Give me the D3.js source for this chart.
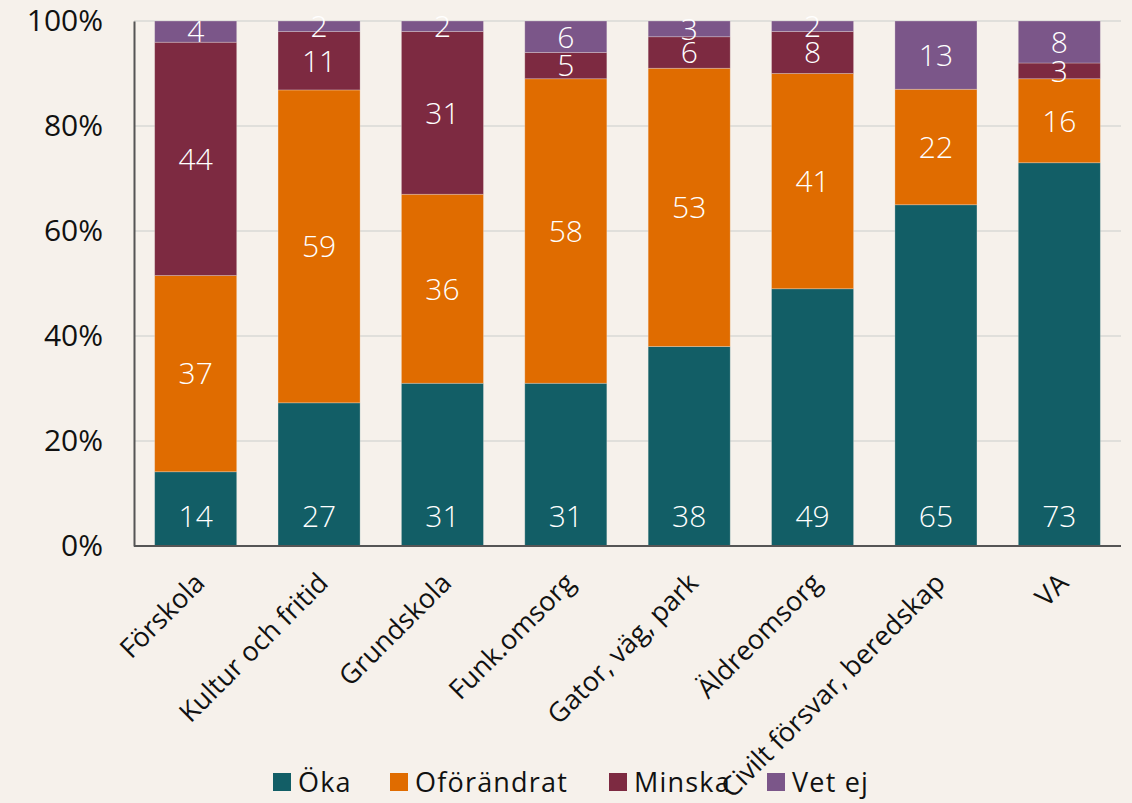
<html>
<script src="https://d3js.org/d3.v7.min.js"></script>
<style>
  body { margin: 0; background: #f6f1eb; }
  svg { font-family: "Open Sans", Lato, sans-serif; }
</style>
<body>
<svg width="1132" height="803"></svg>
<script>
const categories = ["Förskola", "Kultur och fritid", "Grundskola", "Funk.omsorg", "Gator, väg, park", "Äldreomsorg", "Civilt försvar, beredskap", "VA"];
const seriesNames = ["Öka", "Oförändrat", "Minska", "Vet ej"];
const oka = [14, 27, 31, 31, 38, 49, 65, 73];
const oforandrat = [37, 59, 36, 58, 53, 41, 22, 16];
const minska = [44, 11, 31, 5, 6, 8, 0, 3];
const vetEj = [4, 2, 2, 6, 3, 2, 13, 8];
const yTicks = [0, 0.2, 0.4, 0.6, 0.8, 1];
const colors = ["#125e66", "#e06c00", "#7d2a41", "#7b5689"];

const rows = categories.map((c, i) => ({
  cat: c, "Öka": oka[i], "Oförändrat": oforandrat[i], "Minska": minska[i], "Vet ej": vetEj[i]
}));

const svg = d3.select("svg");
const plotLeft = 134, plotRight = 1121, plotTop = 21, plotBottom = 546;

const x = d3.scaleBand().domain(categories).range([plotLeft, plotRight]).paddingInner(0.335).paddingOuter(0.1675);
const y = d3.scaleLinear().domain([0, 1]).range([plotBottom, plotTop]);
const color = d3.scaleOrdinal().domain(seriesNames).range(colors);

const stacked = d3.stack().keys(seriesNames).offset(d3.stackOffsetExpand)(rows);

// gridlines
svg.append("g")
  .selectAll("line")
  .data(yTicks.slice(1))
  .join("line")
  .attr("x1", plotLeft).attr("x2", plotRight)
  .attr("y1", d => y(d)).attr("y2", d => y(d))
  .attr("stroke", "#d9d8d6").attr("stroke-width", 1.5);

// bars
const layer = svg.append("g")
  .selectAll("g")
  .data(stacked)
  .join("g")
  .attr("fill", d => color(d.key));

layer.selectAll("rect")
  .data(d => d)
  .join("rect")
  .attr("x", d => x(d.data.cat))
  .attr("width", x.bandwidth())
  .attr("y", d => y(d[1]))
  .attr("height", d => y(d[0]) - y(d[1]))
  .attr("stroke", "rgba(246,241,235,0.35)")
  .attr("stroke-width", 0.8);

// segment labels (Öka sits at the base, others centred)
svg.append("g")
  .selectAll("g")
  .data(stacked)
  .join("g")
  .selectAll("text")
  .data(d => d.map(v => ({ v: v, key: d.key })).filter(e => e.v.data[d.key] > 0))
  .join("text")
  .attr("x", d => x(d.v.data.cat) + x.bandwidth() / 2)
  .attr("y", d => d.key == "Öka" ? y(0) - 30 : (y(d.v[0]) + y(d.v[1])) / 2)
  .attr("dy", "0.36em")
  .attr("text-anchor", "middle")
  .attr("fill", "#ffffff")
  .attr("font-size", 30)
  .attr("font-weight", 300)
  .text(d => d.v.data[d.key]);

// y axis
const yAxis = svg.append("g")
  .attr("transform", "translate(" + plotLeft + ",0)")
  .call(d3.axisLeft(y).tickValues(yTicks).tickFormat(d3.format(".0%")).tickSize(0).tickPadding(31));
yAxis.select(".domain").attr("stroke", "#555555").attr("stroke-width", 2);
yAxis.selectAll("text").attr("font-size", 30).attr("fill", "#111111").attr("font-family", "'Open Sans', Lato, sans-serif");

// x axis line
svg.append("line")
  .attr("x1", plotLeft).attr("x2", plotRight)
  .attr("y1", plotBottom).attr("y2", plotBottom)
  .attr("stroke", "#555555").attr("stroke-width", 2);

// category labels
svg.append("g")
  .selectAll("text")
  .data(categories)
  .join("text")
  .attr("transform", d => "translate(" + (x(d) + x.bandwidth() / 2 + 4) + "," + (plotBottom + 32) + ") rotate(-45)")
  .attr("text-anchor", "end")
  .attr("dy", "0.35em")
  .attr("font-size", 27)
  .attr("fill", "#111111")
  .text(d => d);

// legend
const legendX = [273, 390, 609, 767];
const legend = svg.append("g")
  .selectAll("g")
  .data(seriesNames)
  .join("g")
  .attr("transform", (d, i) => "translate(" + legendX[i] + ",782)");
legend.append("rect")
  .attr("x", 0).attr("y", -9).attr("width", 18).attr("height", 18)
  .attr("fill", d => color(d));
legend.append("text")
  .attr("x", 25).attr("dy", "0.36em")
  .attr("font-size", 27).attr("letter-spacing", 1.2).attr("fill", "#111111")
  .text(d => d);
</script>
</body>
</html>
